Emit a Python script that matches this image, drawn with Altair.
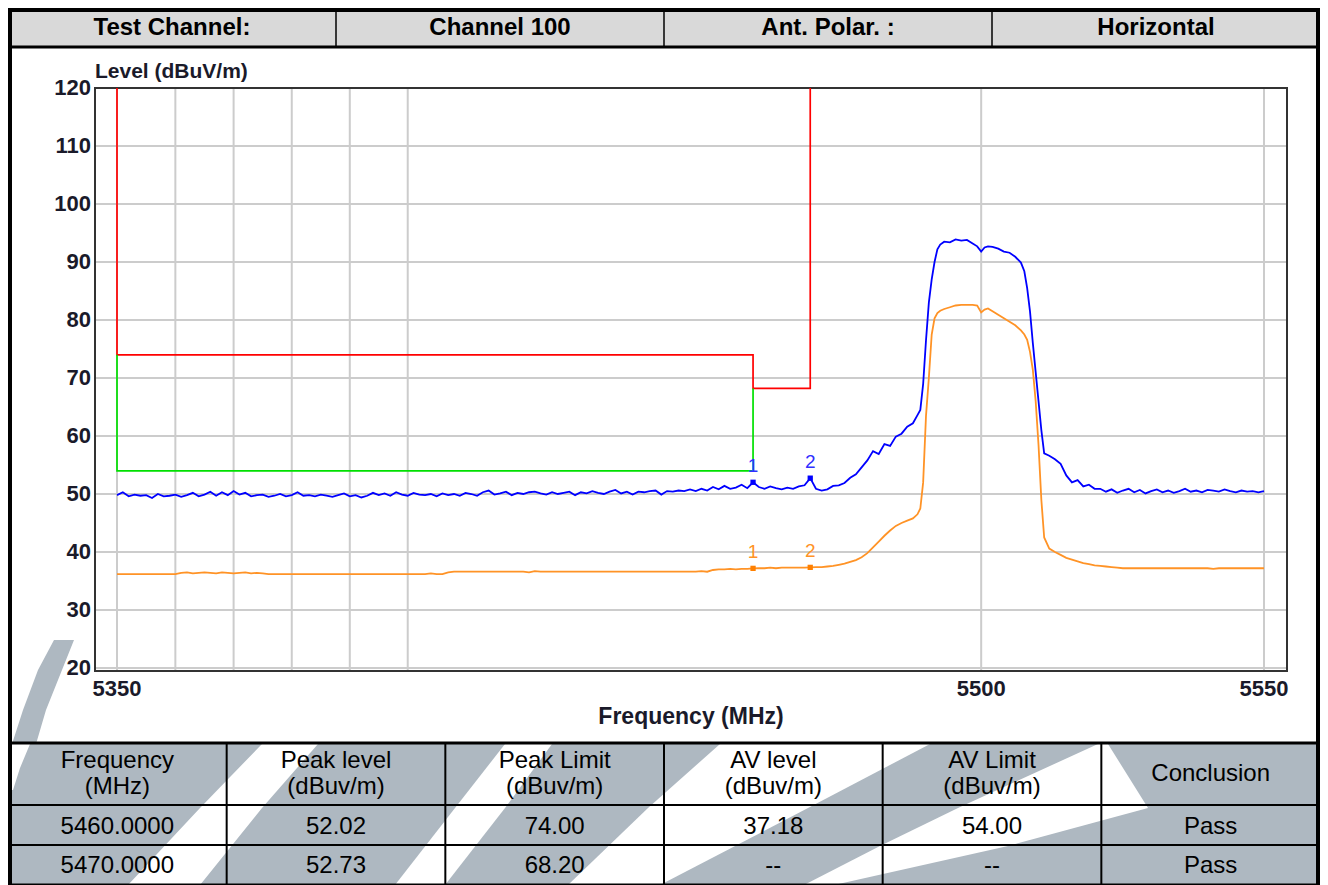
import altair as alt
import pandas as pd

# ---------------- data ----------------
HEADER_LABELS = ["Test Channel:", "Channel 100", "Ant. Polar. :", "Horizontal"]

TABLE_HEAD = ["Frequency\n(MHz)", "Peak level\n(dBuv/m)", "Peak Limit\n(dBuv/m)",
              "AV level\n(dBuv/m)", "AV Limit\n(dBuv/m)", "Conclusion"]
TABLE_ROW1 = ["5460.0000", "52.02", "74.00", "37.18", "54.00", "Pass"]
TABLE_ROW2 = ["5470.0000", "52.73", "68.20", "--", "--", "Pass"]

X_TICKS = [5350, 5500, 5550]
X_TICK_LABELS = ["5350", "5500", "5550"]
X_GRID = [5350, 5360, 5370, 5380, 5390, 5400, 5500, 5550]
Y_TICKS = [20, 30, 40, 50, 60, 70, 80, 90, 100, 110, 120]
Y_TICK_LABELS = ["20", "30", "40", "50", "60", "70", "80", "90", "100", "110", "120"]
Y_GRID = [20, 30, 40, 50, 60, 70, 80, 90, 100, 110]

# frequency grid of the traces (MHz)
COARSE_A = list(range(5350, 5480))
FINE = [5480, 5481, 5482, 5483, 5484, 5485, 5486, 5487, 5488,
        5488.8, 5489.3, 5489.8, 5490.3, 5490.8, 5491.3, 5491.8, 5492.3, 5492.8,
        5493.5, 5494.5, 5495.5, 5496.5, 5497.5, 5498.5, 5499.3,
        5500, 5500.6, 5501.2,
        5502, 5503, 5504, 5505, 5506, 5507,
        5507.6, 5508.1, 5508.6, 5509.1, 5509.6, 5510.1, 5510.6, 5511.1,
        5512, 5513, 5514, 5515, 5516, 5517, 5518, 5519, 5520]
COARSE_B = list(range(5521, 5551))
TRACE_FREQ = COARSE_A + FINE + COARSE_B

PEAK_A = [49.8, 50.3, 49.6, 49.9, 49.7, 49.8, 49.3, 50.0, 49.6, 49.7,
          49.9, 49.5, 49.8, 50.2, 49.6, 49.9, 50.4, 49.7, 50.3, 49.8,
          50.5, 49.9, 50.2, 49.6, 49.8, 49.9, 49.5, 49.7, 50.0, 49.6,
          49.8, 50.3, 49.7, 49.8, 49.6, 49.9, 49.7, 49.5, 49.8, 50.1,
          49.6, 49.8, 49.4, 49.7, 50.2, 49.8, 50.1, 49.7, 50.3, 49.9,
          49.7, 50.2, 49.9, 49.8, 50.0, 49.6, 50.1, 49.8, 50.0, 49.7,
          50.2, 50.0, 49.7, 50.3, 50.6, 49.9, 50.1, 50.4, 49.8, 50.2,
          50.0, 50.3, 50.4, 50.1, 49.9, 50.3, 50.0, 50.2, 50.4, 49.8,
          50.3, 50.1, 50.5, 50.2, 50.0, 50.4, 50.7, 50.1, 50.4, 49.9,
          50.4, 50.3, 50.5, 50.6, 49.9, 50.5, 50.4, 50.6, 50.5, 50.8,
          50.5, 50.9, 50.6, 51.2, 50.8, 51.4, 50.9, 51.1, 51.6, 51.0,
          52.02, 51.2, 50.9, 51.3, 51.0, 50.8, 51.1, 50.9, 51.3, 51.5,
          52.73, 50.9, 50.6, 50.8, 51.4, 51.5, 51.9, 52.8, 53.4, 54.6]
PEAK_FINE = [55.8, 57.4, 56.9, 58.6, 58.3, 59.9, 60.4, 61.6, 62.2,
             63.6, 64.5, 69.0, 76.5, 83.0, 87.0, 90.0, 92.2, 93.0,
             93.5, 93.4, 93.9, 93.7, 93.8, 93.2, 92.7,
             91.8, 92.5, 92.7,
             92.6, 92.3, 91.8, 91.6, 90.9, 89.9,
             88.4, 85.5, 81.5, 76.0, 71.0, 66.0, 61.0, 57.0,
             56.6, 56.0, 55.2, 53.2, 52.0, 52.4, 51.3, 51.6, 50.9]
PEAK_B = [50.9, 50.4, 50.8, 50.2, 50.6, 50.9, 50.3, 50.7, 50.1, 50.5,
          50.8, 50.3, 50.6, 50.2, 50.5, 50.9, 50.4, 50.6, 50.3, 50.7,
          50.6, 50.4, 50.8, 50.5, 50.3, 50.6, 50.4, 50.5, 50.3, 50.5]
PEAK_LEVEL = PEAK_A + PEAK_FINE + PEAK_B

AV_A = [36.2, 36.2, 36.2, 36.2, 36.2, 36.2, 36.2, 36.2, 36.2, 36.2,
        36.2, 36.4, 36.5, 36.3, 36.4, 36.5, 36.4, 36.3, 36.5, 36.4,
        36.3, 36.4, 36.5, 36.3, 36.4, 36.3, 36.2, 36.2, 36.2, 36.2,
        36.2, 36.2, 36.2, 36.2, 36.2, 36.2, 36.2, 36.2, 36.2, 36.2,
        36.2, 36.2, 36.2, 36.2, 36.2, 36.2, 36.2, 36.2, 36.2, 36.2,
        36.2, 36.2, 36.2, 36.2, 36.3, 36.2, 36.2, 36.5, 36.6, 36.6,
        36.6, 36.6, 36.6, 36.6, 36.6, 36.6, 36.6, 36.6, 36.6, 36.6,
        36.6, 36.5, 36.7, 36.6, 36.6, 36.6, 36.6, 36.6, 36.6, 36.6,
        36.6, 36.6, 36.6, 36.6, 36.6, 36.6, 36.6, 36.6, 36.6, 36.6,
        36.6, 36.6, 36.6, 36.6, 36.6, 36.6, 36.6, 36.6, 36.6, 36.6,
        36.6, 36.7, 36.6, 36.9, 37.0, 37.0, 37.1, 37.0, 37.1, 37.1,
        37.18, 37.2, 37.2, 37.3, 37.2, 37.3, 37.3, 37.3, 37.3, 37.3,
        37.35, 37.4, 37.4, 37.5, 37.6, 37.8, 38.0, 38.3, 38.6, 39.1]
AV_FINE = [39.8, 40.8, 41.8, 42.8, 43.7, 44.5, 45.0, 45.4, 45.8,
           46.5, 47.5, 52.0, 63.5, 70.0, 77.5, 80.3, 81.2, 81.6,
           81.9, 82.2, 82.5, 82.6, 82.6, 82.6, 82.5,
           81.3, 81.8, 82.0,
           81.5, 80.9, 80.3, 79.7, 79.1, 78.2,
           77.5, 76.6, 74.5, 71.4, 66.0, 58.5, 49.0, 42.5,
           40.6, 40.0, 39.5, 39.0, 38.7, 38.4, 38.1, 37.9, 37.7]
AV_B = [37.6, 37.5, 37.4, 37.3, 37.2, 37.2, 37.2, 37.2, 37.2, 37.2,
        37.2, 37.2, 37.2, 37.2, 37.2, 37.2, 37.2, 37.2, 37.2, 37.2,
        37.1, 37.2, 37.2, 37.2, 37.2, 37.2, 37.2, 37.2, 37.2, 37.2]
AV_LEVEL = AV_A + AV_FINE + AV_B

PEAK_LIMIT_FREQ = [5350, 5350, 5460, 5460, 5470, 5470]
PEAK_LIMIT_LEVEL = [120, 74, 74, 68.2, 68.2, 120]
AV_LIMIT_FREQ = [5350, 5350, 5460, 5460]
AV_LIMIT_LEVEL = [74, 54, 54, 68.2]

MARK_FREQ = [5460, 5470]
MARK_LABEL = ["1", "2"]
MARK_PEAK = [52.02, 52.73]
MARK_AV = [37.18, 37.35]

# ---------------- layout (canvas pixels, page minus 8px margin) ----------------
W, H = 1312, 877
FONT_AX = "Liberation Sans, Arial"
FONT = "Liberation Sans, Arial"
FRAME = dict(x0=87, x1=1279, y0=80, y1=663)
TAB_Y = [735, 797, 837, 877]          # table row boundaries
WM_COLOR = "#aeb8c1"

# watermark swooshes (page decoration, pixel polygons)
WM_GRAY_POLYS = [
    [[4, 736], [1308, 736], [1308, 877], [4, 877]],
    [[46, 632], [30, 662], [15, 702], [4, 736], [28, 736], [38, 702], [54, 662], [66, 632]],
]
WM_WHITE_POLYS = [
    [[4, 736], [22, 736], [12, 760], [5, 782], [4, 782]],
    [[254, 736], [310, 736], [254, 800], [192, 877], [120, 877], [192, 800]],
    [[497, 736], [544, 736], [497, 800], [437, 877], [387, 877], [447, 800]],
    [[712, 736], [922, 736], [800, 800], [652, 877], [560, 877], [640, 800]],
    [[1090, 736], [1100, 736], [1140, 800], [1000, 838], [826, 877], [796, 877], [872, 838], [950, 800]],
]


def features(polys):
    out = []
    for p in polys:
        ring = [list(map(float, q)) for q in p] + [list(map(float, p[0]))]
        out.append({"type": "Feature", "properties": {},
                    "geometry": {"type": "Polygon", "coordinates": [ring]}})
    return out


def sc(domain, rng, kind="linear"):
    return alt.Scale(type=kind, domain=domain, range=rng, nice=False, zero=False)


XS = sc([5350, 5550], [109, 1256], "log")
YS = sc([20, 120], [660, 80])
HX = sc([0, 4], [0, W])
TX = sc([0, 6], [0, W])
PY = sc([0, H], [0, H])

one = pd.DataFrame({"k": [0]})

wm_gray = alt.Chart(alt.Data(values=features(WM_GRAY_POLYS))).mark_geoshape(
    fill=WM_COLOR, strokeWidth=0).project(type="identity", scale=1, translate=[0, 0])
wm_white = alt.Chart(alt.Data(values=features(WM_WHITE_POLYS))).mark_geoshape(
    fill="white", strokeWidth=0).project(type="identity", scale=1, translate=[0, 0])

# header band
header_fill = alt.Chart(pd.DataFrame({"a": [0], "b": [4]})).mark_rect(color="#d9d9d9").encode(
    x=alt.X("a:Q", scale=HX, axis=None), x2="b:Q", y=alt.value(0), y2=alt.value(38))
header_div = alt.Chart(pd.DataFrame({"d": [1, 2, 3]})).mark_rule(color="black", strokeWidth=1.5).encode(
    x=alt.X("d:Q", scale=HX, axis=None), y=alt.value(0), y2=alt.value(38))
hdr = pd.DataFrame({"label": HEADER_LABELS, "c": [i + 0.5 for i in range(4)]})
header_text = alt.Chart(hdr).mark_text(font=FONT, fontSize=24, fontWeight="bold", color="black",
                                       baseline="middle").encode(
    x=alt.X("c:Q", scale=HX, axis=None), y=alt.value(20), text="label:N")
header_line = alt.Chart(one).mark_rule(color="black", strokeWidth=3).encode(
    x=alt.value(0), x2=alt.value(W), y=alt.value(39))

# plot grid and frame
grid_v = alt.Chart(pd.DataFrame({"f": X_GRID})).mark_rule(color="#cccccc", strokeWidth=2).encode(
    x=alt.X("f:Q", scale=XS, axis=None), y=alt.value(FRAME["y0"]), y2=alt.value(FRAME["y1"]))
grid_h = alt.Chart(pd.DataFrame({"v": Y_GRID})).mark_rule(color="#cccccc", strokeWidth=2).encode(
    y=alt.Y("v:Q", scale=YS, axis=None), x=alt.value(FRAME["x0"]), x2=alt.value(FRAME["x1"]))
frame = alt.Chart(one).mark_rect(fillOpacity=0, stroke="#333333", strokeWidth=2).encode(
    x=alt.value(FRAME["x0"]), x2=alt.value(FRAME["x1"]), y=alt.value(FRAME["y0"]), y2=alt.value(FRAME["y1"]))

# limit lines
pl = pd.DataFrame({"f": PEAK_LIMIT_FREQ, "v": PEAK_LIMIT_LEVEL, "o": range(len(PEAK_LIMIT_FREQ))})
al = pd.DataFrame({"f": AV_LIMIT_FREQ, "v": AV_LIMIT_LEVEL, "o": range(len(AV_LIMIT_FREQ))})
peak_limit = alt.Chart(pl).mark_line(color="#ff0000", strokeWidth=1.7).encode(
    x=alt.X("f:Q", scale=XS, axis=None), y=alt.Y("v:Q", scale=YS, axis=None), order="o:Q")
av_limit = alt.Chart(al).mark_line(color="#00e000", strokeWidth=1.7).encode(
    x=alt.X("f:Q", scale=XS, axis=None), y=alt.Y("v:Q", scale=YS, axis=None), order="o:Q")

# traces
pk = pd.DataFrame({"f": TRACE_FREQ, "v": PEAK_LEVEL})
av = pd.DataFrame({"f": TRACE_FREQ, "v": AV_LEVEL})
peak_line = alt.Chart(pk).mark_line(color="#0000ff", strokeWidth=1.8).encode(
    x=alt.X("f:Q", scale=XS, axis=None), y=alt.Y("v:Q", scale=YS, axis=None))
av_line = alt.Chart(av).mark_line(color="#ff9326", strokeWidth=1.8).encode(
    x=alt.X("f:Q", scale=XS, axis=None), y=alt.Y("v:Q", scale=YS, axis=None))

mk = pd.DataFrame({"f": MARK_FREQ, "p": MARK_PEAK, "a": MARK_AV, "t": MARK_LABEL})
peak_mk = alt.Chart(mk).mark_square(size=28, color="#0000ff", opacity=1).encode(
    x=alt.X("f:Q", scale=XS, axis=None), y=alt.Y("p:Q", scale=YS, axis=None))
peak_mk_t = alt.Chart(mk).mark_text(font=FONT, fontSize=19, color="#3030ff", dy=-16).encode(
    x=alt.X("f:Q", scale=XS, axis=None), y=alt.Y("p:Q", scale=YS, axis=None), text="t:N")
av_mk = alt.Chart(mk).mark_square(size=28, color="#ff8000", opacity=1).encode(
    x=alt.X("f:Q", scale=XS, axis=None), y=alt.Y("a:Q", scale=YS, axis=None))
av_mk_t = alt.Chart(mk).mark_text(font=FONT, fontSize=19, color="#ff9326", dy=-16).encode(
    x=alt.X("f:Q", scale=XS, axis=None), y=alt.Y("a:Q", scale=YS, axis=None), text="t:N")

# axis labels
ylab = alt.Chart(pd.DataFrame({"v": Y_TICKS, "t": Y_TICK_LABELS})).mark_text(
    font=FONT_AX, fontSize=22, fontWeight="bold", color="#1a1a2a", align="right", baseline="middle").encode(
    y=alt.Y("v:Q", scale=YS, axis=None), x=alt.value(FRAME["x0"] - 4), text="t:N")
xlab = alt.Chart(pd.DataFrame({"f": X_TICKS, "t": X_TICK_LABELS})).mark_text(
    font=FONT_AX, fontSize=22, fontWeight="bold", color="#1a1a2a", align="center", baseline="middle").encode(
    x=alt.X("f:Q", scale=XS, axis=None), y=alt.value(681), text="t:N")
ytitle = alt.Chart(one).mark_text(text="Level (dBuV/m)", font=FONT_AX, fontSize=21, fontWeight="bold",
                                  color="#1a1a2a", align="left", baseline="middle").encode(
    x=alt.value(FRAME["x0"]), y=alt.value(64))
xtitle = alt.Chart(one).mark_text(text="Frequency (MHz)", font=FONT_AX, fontSize=23, fontWeight="bold",
                                  color="#1a1a2a", align="center", baseline="middle").encode(
    x=alt.value((FRAME["x0"] + FRAME["x1"]) / 2), y=alt.value(709))

# table
tab_lines_h = alt.Chart(pd.DataFrame({"r": TAB_Y, "w": [3, 2, 2, 3]})).mark_rule(color="black").encode(
    y=alt.Y("r:Q", scale=PY, axis=None), x=alt.value(0), x2=alt.value(W),
    strokeWidth=alt.StrokeWidth("w:Q", scale=None, legend=None))
tab_lines_v = alt.Chart(pd.DataFrame({"c": [1, 2, 3, 4, 5]})).mark_rule(color="black", strokeWidth=2).encode(
    x=alt.X("c:Q", scale=TX, axis=None), y=alt.value(TAB_Y[0]), y2=alt.value(H))
cells = []
row_y = [753, 819, 858]
for ry, row in zip(row_y, [TABLE_HEAD, TABLE_ROW1, TABLE_ROW2]):
    for c, t in enumerate(row):
        yy = ry + 13 if (ry == row_y[0] and "\n" not in t) else ry
        cells.append({"c": c + 0.5, "r": yy, "t": t})
tab_text = alt.Chart(pd.DataFrame(cells)).mark_text(font=FONT, fontSize=24, color="black",
                                                    baseline="middle", lineBreak="\n", lineHeight=26).encode(
    x=alt.X("c:Q", scale=TX, axis=None), y=alt.Y("r:Q", scale=PY, axis=None), text="t:N")

# outer border
outer = alt.Chart(one).mark_rect(fillOpacity=0, stroke="black", strokeWidth=4).encode(
    x=alt.value(2), x2=alt.value(W - 2), y=alt.value(2), y2=alt.value(H + 4))

chart = alt.layer(
    wm_gray, wm_white,
    header_fill, header_div, header_text, header_line,
    grid_v, grid_h, frame,
    peak_limit, av_limit, av_line, peak_line,
    peak_mk, av_mk, peak_mk_t, av_mk_t,
    ylab, xlab, ytitle, xtitle,
    tab_lines_h, tab_lines_v, tab_text,
    outer,
).resolve_scale(x="independent", y="independent").properties(
    width=W, height=H, autosize="none", padding=0, background="white"
).configure_view(stroke=None)

chart.save("out.html", embed_options={"renderer": "svg", "actions": False})
